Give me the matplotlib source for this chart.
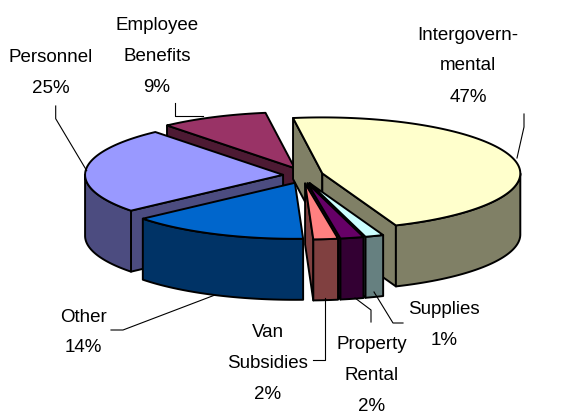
import numpy as np
import matplotlib
matplotlib.use("Agg")
import matplotlib.pyplot as plt
from matplotlib.patches import Polygon
from matplotlib import font_manager

# slices, clockwise from (just left of) 12 o'clock
categories = ["Intergovern-\nmental", "Supplies", "Property\nRental", "Van\nSubsidies",
              "Other", "Personnel", "Employee\nBenefits"]
values = [46.3, 1.5, 1.9, 2.0, 14.6, 24.9, 8.8]
pct_labels = ["47%", "1%", "2%", "2%", "14%", "25%", "9%"]
top_colors = ["#FFFFCC", "#CCFFFF", "#660066", "#FF8080", "#0066CC", "#9999FF", "#993366"]
side_colors = ["#808066", "#668080", "#330033", "#804040", "#003366", "#4C4C80", "#4D1A33"]

# geometry of the projected pie (pixel coords, y down)
cx, cy = 303, 175.5
rx, ry = 198, 56
depth = 61
ex, ey = 20, 8
start = -8.5

# label placement: centre x, baseline of first line, leader line
label_pos = [(468, 39.5), (444, 314), (372, 349), (267.5, 337), (83.5, 321.5), (51, 62), (157, 30)]
line_gap = 31
leaders = [
    [(524, 114), (524, 127), (517, 158)],
    [(403, 323), (393, 323), (374, 292)],
    [(371, 322), (371, 310), (355, 298)],
    [(313, 360), (325, 360), (325, 298)],
    [(111, 330), (123, 330), (215, 295)],
    [(55.7, 106), (55.7, 118.7), (86.7, 170.7)],
    [(175, 103), (175, 116), (203, 116)],
]

names = {f.name for f in font_manager.fontManager.ttflist}
if "Liberation Sans Narrow" in names:
    fam, fsize = "Liberation Sans Narrow", 15.8
else:
    fam, fsize = "Liberation Sans", 13.5

fig = plt.figure(figsize=(5.82, 4.16), dpi=100)
ax = fig.add_axes([0, 0, 1, 1])
ax.set_xlim(0, 582)
ax.set_ylim(416, 0)
ax.axis("off")

def rim(x0, y0, ang):
    a = np.radians(ang)
    return x0 + rx * np.sin(a), y0 - ry * np.cos(a)

def arc(x0, y0, a0, a1, dy=0):
    n = max(2, int(abs(a1 - a0)) * 2 + 2)
    angs = np.linspace(a0, a1, n)
    xs, ys = rim(x0, y0, angs)
    return list(zip(xs, ys + dy))

edge = dict(edgecolor="black", linewidth=1.4, joinstyle="round")

total = sum(values)
bounds = np.concatenate([[0], np.cumsum(values)]) / total * 360 + start
slices = []
for i in range(len(values)):
    a0, a1 = bounds[i], bounds[i + 1]
    mid = (a0 + a1) / 2
    px = cx + ex * np.sin(np.radians(mid))
    py = cy - ey * np.cos(np.radians(mid))
    slices.append((-np.cos(np.radians(mid)), i, a0, a1, px, py))

for _, i, a0, a1, px, py in sorted(slices):
    # radial walls
    for a, nrm in ((a0, a0 - 90), (a1, a1 + 90)):
        if np.cos(np.radians(nrm)) < 0:
            rx_, ry_ = rim(px, py, a)
            ax.add_patch(Polygon([(px, py), (rx_, ry_), (rx_, ry_ + depth), (px, py + depth)],
                                 facecolor=side_colors[i], **edge))
    # outer wall (front half only)
    lo, hi = max(a0, 90), min(a1, 270)
    if hi > lo:
        pts = arc(px, py, lo, hi) + arc(px, py, hi, lo, depth)
        ax.add_patch(Polygon(pts, facecolor=side_colors[i], **edge))
    # top face
    ax.add_patch(Polygon([(px, py)] + arc(px, py, a0, a1), facecolor=top_colors[i], **edge))

for i, name in enumerate(categories):
    x, y = label_pos[i]
    lines = name.split("\n") + [pct_labels[i]]
    for k, s in enumerate(lines):
        ax.text(x, y + k * line_gap, s, ha="center", va="baseline",
                fontsize=fsize, family=fam, color="black")
    lx, ly = zip(*leaders[i])
    ax.plot(lx, ly, color="black", linewidth=0.8)

fig.savefig("out.png", dpi=100)
